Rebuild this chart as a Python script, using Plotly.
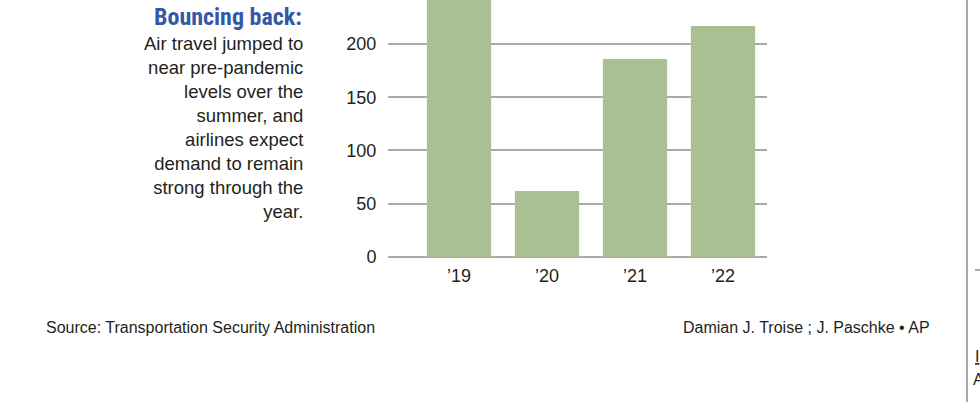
import plotly.graph_objects as go

categories = ["\u201919", "\u201920", "\u201921", "\u201922"]
values = [255, 62, 186, 217]
y_ticks = [0, 50, 100, 150, 200]

title_text = "Bouncing back:"
body_lines = ["Air travel jumped to", "near pre-pandemic", "levels over the",
              "summer, and", "airlines expect", "demand to remain",
              "strong through the", "year."]
source_text = "Source: Transportation Security Administration"
credit_text = "Damian J. Troise ; J. Paschke \u2022 AP"

W, H = 980, 402
L, R, T, B = 388, 767, 0, 257


def px(x):
    return (x - L) / (R - L)


def py(y):
    return (B - y) / (B - T)


FONT = "Liberation Sans, Arial, Helvetica, sans-serif"
TXT = "#231f20"
GRID = "#a9a9ae"

fig = go.Figure()
fig.add_trace(go.Bar(x=list(range(len(categories))), y=values,
                     marker=dict(color="#aac093", line=dict(width=0)),
                     width=0.73, cliponaxis=True, hoverinfo="skip"))

fig.update_layout(
    width=W, height=H,
    margin=dict(l=L, r=W - R, t=T, b=H - B, pad=0),
    paper_bgcolor="white", plot_bgcolor="white",
    showlegend=False,
    font=dict(family=FONT, color=TXT, size=18),
    xaxis=dict(range=[-0.807, 3.5], tickmode="array",
               tickvals=list(range(len(categories))), ticktext=categories,
               showgrid=False, zeroline=False, showline=False,
               ticks="outside", ticklen=2, tickcolor="rgba(0,0,0,0)",
               tickfont=dict(size=18, color=TXT, family=FONT)),
    yaxis=dict(range=[0, 241.3], tickmode="array", tickvals=y_ticks,
               showgrid=True, gridcolor=GRID, gridwidth=2,
               zeroline=True, zerolinecolor=GRID, zerolinewidth=2,
               showline=False, ticks="outside", ticklen=7,
               tickcolor="rgba(0,0,0,0)",
               tickfont=dict(size=18, color=TXT, family=FONT)),
)

ann = []
ann.append(dict(text="<b>" + title_text + "</b>", x=px(304), y=py(17),
                xref="paper", yref="paper", xanchor="right", yanchor="middle",
                showarrow=False,
                font=dict(family="Liberation Sans Narrow, Arial Narrow, Roboto Condensed, sans-serif",
                          size=24, color="#3558a6")))
ann.append(dict(text="<br>".join(body_lines), x=px(305), y=py(31),
                xref="paper", yref="paper", xanchor="right", yanchor="top",
                align="right", showarrow=False,
                font=dict(family=FONT, size=18.5, color=TXT)))
ann.append(dict(text=source_text, x=px(44), y=py(327),
                xref="paper", yref="paper", xanchor="left", yanchor="middle",
                showarrow=False, font=dict(family=FONT, size=16, color=TXT)))
ann.append(dict(text=credit_text, x=px(932), y=py(327),
                xref="paper", yref="paper", xanchor="right", yanchor="middle",
                showarrow=False, font=dict(family=FONT, size=16, color=TXT)))
ann.append(dict(text="<u>I</u>", x=px(973), y=py(356),
                xref="paper", yref="paper", xanchor="left", yanchor="middle",
                showarrow=False, font=dict(family=FONT, size=16, color=TXT)))
ann.append(dict(text="A", x=px(971), y=py(379),
                xref="paper", yref="paper", xanchor="left", yanchor="middle",
                showarrow=False, font=dict(family=FONT, size=16, color=TXT)))
fig.update_layout(annotations=ann)

fig.add_shape(type="line", xref="paper", yref="paper",
              x0=px(967), x1=px(967), y0=py(0), y1=py(402),
              line=dict(color="#555555", width=1), layer="above")
fig.add_shape(type="line", xref="paper", yref="paper",
              x0=px(975), x1=px(980), y0=py(270), y1=py(270),
              line=dict(color="#555555", width=1), layer="above")

fig.write_html("out.html", config={"displayModeBar": False},
               post_script="document.body.style.margin='0';document.body.style.overflow='hidden';")
